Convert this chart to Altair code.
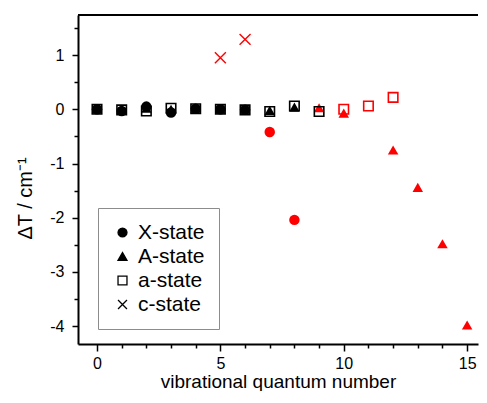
import altair as alt
import pandas as pd

states = ["X-state", "A-state", "a-state", "c-state"]

# X-state (filled circles)
x_v = [0, 1, 2, 3, 4, 5, 6, 7, 8]
x_dt = [0.00, -0.03, 0.05, -0.06, 0.01, 0.00, -0.01, -0.42, -2.04]
x_flag = [0, 0, 0, 0, 0, 0, 0, 1, 1]

# A-state (filled triangles)
A_v = [0, 1, 2, 3, 4, 5, 6, 7, 8, 9, 10, 12, 13, 14, 15]
A_dt = [0.00, 0.00, 0.02, 0.00, 0.02, 0.00, 0.00, -0.02, 0.04, 0.03, -0.07, -0.75, -1.44, -2.48, -3.98]
A_flag = [0, 0, 0, 0, 0, 0, 0, 0, 0, 1, 1, 1, 1, 1, 1]

# a-state (open squares)
a_v = [0, 1, 2, 3, 4, 5, 6, 7, 8, 9, 10, 11, 12]
a_dt = [0.00, -0.01, -0.03, 0.02, 0.01, 0.00, -0.01, -0.04, 0.06, -0.04, 0.00, 0.06, 0.22]
a_flag = [0, 0, 0, 0, 0, 0, 0, 0, 0, 0, 1, 1, 1]

# c-state (crosses)
c_v = [5, 6]
c_dt = [0.95, 1.29]
c_flag = [1, 1]

x_ticks = list(range(0, 16))
y_ticks = [-4.0, -3.5, -3.0, -2.5, -2.0, -1.5, -1.0, -0.5, 0.0, 0.5, 1.0, 1.5]

def frame(name, v, dt, flag):
    return pd.DataFrame({"state": name, "v": v, "dT": dt, "flag": flag})

df_X = frame("X-state", x_v, x_dt, x_flag)
df_A = frame("A-state", A_v, A_dt, A_flag)
df_a = frame("a-state", a_v, a_dt, a_flag)
df_c = frame("c-state", c_v, c_dt, c_flag)

FONT = "Liberation Sans"
XPATH = "M-1,-1L1,1M1,-1L-1,1"

xenc = alt.X(
    "v:Q",
    scale=alt.Scale(domain=[-0.77, 15.44], nice=False, zero=False),
    axis=alt.Axis(
        values=x_ticks,
        labelExpr="datum.value % 5 === 0 ? '' + datum.value : ''",
        tickSize={"condition": {"test": "datum.value % 5 === 0", "value": 7}, "value": 4},
        labelPadding=4,
        title="vibrational quantum number",
        titleFontSize=19,
        titleY=43,
        titleBaseline="alphabetic",
    ),
)
yenc = alt.Y(
    "dT:Q",
    scale=alt.Scale(domain=[-4.33, 1.74], nice=False, zero=False),
    axis=alt.Axis(
        values=y_ticks,
        labelExpr="datum.value % 1 === 0 ? '' + datum.value : ''",
        tickSize={"condition": {"test": "datum.value % 1 === 0", "value": 6}, "value": 4},
        labelPadding=8,
        title="ΔT / cm⁻¹",
        titleFontSize=20,
        titleAngle=270,
        titleX=-53,
        titleY=183,
        titleAlign="center",
        titleBaseline="middle",
    ),
)
col = alt.Color("flag:N", scale=alt.Scale(domain=[0, 1], range=["#000000", "#ff0000"]), legend=None)

circles = alt.Chart(df_X).mark_point(shape="circle", filled=True, size=110, opacity=1).encode(
    x=xenc, y=yenc, color=col
)
triangles = alt.Chart(df_A).mark_point(shape="triangle-up", filled=True, size=110, opacity=1).encode(
    x=xenc, y=yenc, color=col
)
squares = alt.Chart(df_a).mark_point(shape="square", filled=False, size=90, strokeWidth=1.6, opacity=1).encode(
    x=xenc, y=yenc, color=col
)
crosses = alt.Chart(df_c).mark_point(
    shape=XPATH, filled=False, size=120, strokeWidth=1.4, opacity=1
).encode(x=xenc, y=yenc, color=col)

leg_props = dict(
    title=None,
    orient="none",
    legendX=20,
    legendY=193,
    padding=14,
    rowPadding=2,
    fillColor="white",
    strokeColor="#8c8c8c",
    labelFont=FONT,
    labelFontSize=21,
    labelColor="black",
    labelOffset=5,
    symbolSize=80,
    symbolStrokeWidth=1.3,
)
legend_layer = (
    alt.Chart(pd.DataFrame({"state": states}))
    .mark_point(filled=True, strokeWidth=1.3, opacity=1)
    .encode(
        shape=alt.Shape(
            "state:N",
            scale=alt.Scale(domain=states, range=["circle", "triangle-up", "square", XPATH]),
            legend=alt.Legend(**leg_props),
        ),
        fill=alt.Fill(
            "state:N",
            scale=alt.Scale(domain=states, range=["black", "black", "transparent", "transparent"]),
            legend=alt.Legend(**leg_props),
        ),
        stroke=alt.Stroke(
            "state:N",
            scale=alt.Scale(domain=states, range=["black", "black", "black", "black"]),
            legend=alt.Legend(**leg_props),
        ),
    )
    .transform_filter("false")
)

top_line = alt.Chart(pd.DataFrame({"a": [0]})).mark_rule(color="black", strokeWidth=2).encode(y=alt.value(0))

chart = (
    alt.layer(circles, triangles, squares, crosses, legend_layer, top_line)
    .properties(
        width=400,
        height=329,
        padding={"left": 70, "top": 7, "right": 1, "bottom": 47},
        autosize=alt.AutoSizeParams(type="none"),
        background="white",
    )
    .configure_view(stroke=None)
    .configure_axis(
        grid=False,
        domainColor="black",
        domainWidth=2,
        tickColor="black",
        tickWidth=1.5,
        labelFont=FONT,
        labelFontSize=16,
        labelColor="black",
        titleFont=FONT,
        titleFontWeight="normal",
        titleColor="black",
    )
)

chart.save("out.html", embed_options={"renderer": "svg", "actions": False})
